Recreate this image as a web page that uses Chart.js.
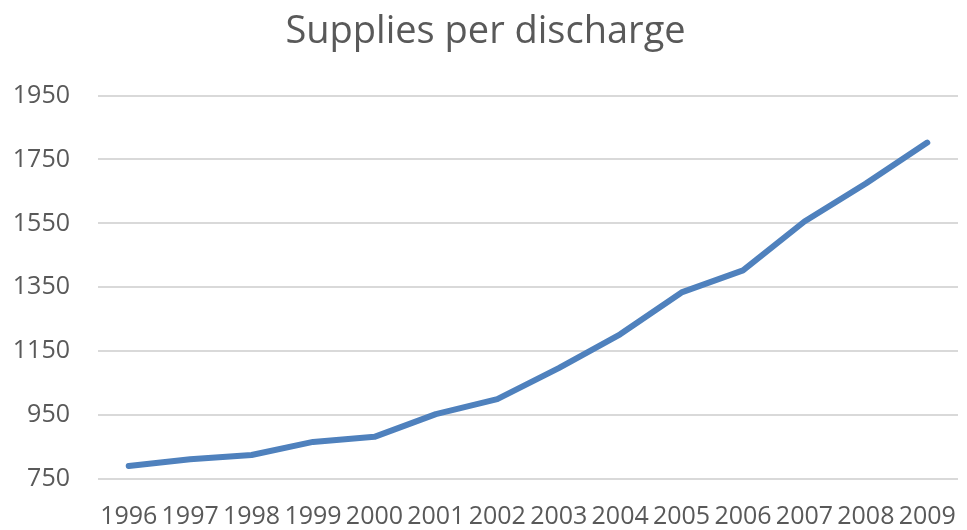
<!DOCTYPE html>
<html lang="en">
<head>
  <meta charset="UTF-8" />
  <title>Supplies per discharge</title>
  <script src="https://cdn.jsdelivr.net/npm/chart.js"></script>
  <style>
    html, body { margin: 0; padding: 0; background: #fff; }
    .wrap { width: 967px; height: 530px; }
  </style>
</head>
<body>
  <div class="wrap"><canvas id="suppliesChart"></canvas></div>

  <script>
    // chart data
    const years = ['1996', '1997', '1998', '1999', '2000', '2001', '2002',
                   '2003', '2004', '2005', '2006', '2007', '2008', '2009'];
    const suppliesPerDischarge = [791, 812, 825, 866, 882, 953, 1000,
                                  1097, 1203, 1334, 1403, 1556, 1675, 1803];
    const yTicks = [750, 950, 1150, 1350, 1550, 1750, 1950];

    const textGrey = '#595959';
    const fontFamily = '"Open Sans", "Liberation Sans", sans-serif';

    const ctx = document.getElementById('suppliesChart').getContext('2d');
    new Chart(ctx, {
      type: 'line',
      data: {
        labels: years,
        datasets: [{
          label: 'Supplies per discharge',
          data: suppliesPerDischarge,
          borderColor: '#4f81bd',
          borderWidth: 6,
          borderCapStyle: 'round',
          borderJoinStyle: 'round',
          pointRadius: 0,
          tension: 0,
          fill: false
        }]
      },
      options: {
        responsive: true,
        maintainAspectRatio: false,
        animation: false,
        layout: { autoPadding: false, padding: { left: 13, right: 9, top: 0, bottom: 0 } },
        scales: {
          x: {
            offset: true,
            grid: { display: false, drawTicks: false },
            border: { display: false },
            ticks: {
              color: textGrey,
              font: { family: fontFamily, size: 25, lineHeight: 1 },
              padding: 25,
              autoSkip: false,
              maxRotation: 0,
              minRotation: 0
            },
            afterFit: axis => { axis.height = 51; axis.paddingLeft = 0; axis.paddingRight = 0; }
          },
          y: {
            min: yTicks[0],
            max: yTicks[yTicks.length - 1],
            afterBuildTicks: axis => { axis.ticks = yTicks.map(v => ({ value: v })); },
            grid: { color: '#d9d9d9', lineWidth: 2, drawTicks: false },
            border: { display: false },
            ticks: {
              color: textGrey,
              font: { family: fontFamily, size: 25 },
              padding: 28,
              callback: v => String(v)
            },
            afterFit: axis => { axis.width = 85; }
          }
        },
        plugins: {
          legend: { display: false },
          tooltip: { enabled: false },
          title: {
            display: true,
            text: 'Supplies per discharge',
            color: textGrey,
            font: { family: fontFamily, size: 38, weight: 'normal', lineHeight: 1.2 },
            padding: { top: 9, bottom: 41 }
          }
        }
      }
    });
  </script>
</body>
</html>
